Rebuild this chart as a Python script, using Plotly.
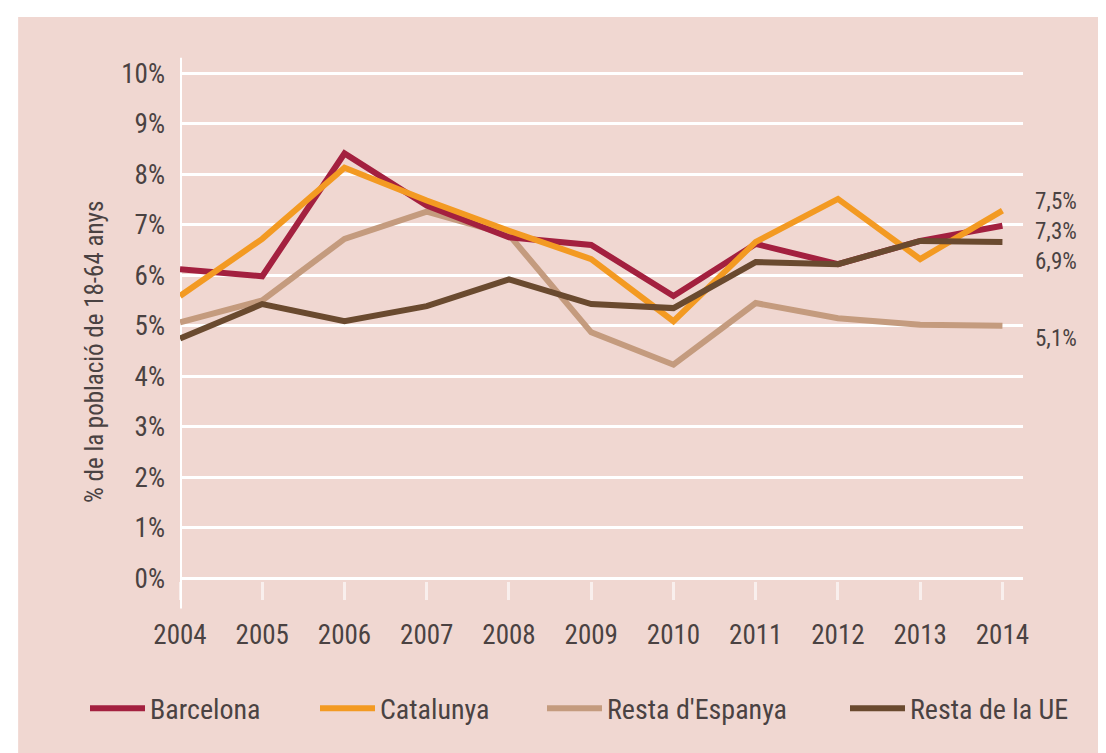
import plotly.graph_objects as go

anys = [2004, 2005, 2006, 2007, 2008, 2009, 2010, 2011, 2012, 2013, 2014]

barcelona = [6.12, 5.98, 8.41, 7.38, 6.75, 6.60, 5.59, 6.62, 6.22, 6.68, 6.98]
catalunya = [5.59, 6.72, 8.13, 7.48, 6.88, 6.32, 5.09, 6.66, 7.51, 6.32, 7.28]
resta_espanya = [5.07, 5.50, 6.72, 7.26, 6.80, 4.87, 4.23, 5.45, 5.15, 5.02, 5.00]
resta_ue = [4.75, 5.43, 5.09, 5.39, 5.92, 5.43, 5.35, 6.26, 6.22, 6.68, 6.66]

percentatges = list(range(0, 11))
etiquetes_pct = [f"{p}%" for p in percentatges]

etiquetes_finals = ["7,5%", "7,3%", "6,9%", "5,1%"]
etiquetes_y = [7.45, 6.86, 6.27, 4.75]

font_txt = "Liberation Sans Narrow, Arial Narrow, Roboto Condensed, DejaVu Sans Condensed, Roboto, sans-serif"
gris = "#4a4242"
fons = "#f0d7d1"

# ordre de dibuix: tan a sota, marró a sobre; cada sèrie amb la seva llegenda
series = [
    ("Resta d'Espanya", resta_espanya, "#c49b7e", "legend3"),
    ("Barcelona", barcelona, "#a3203f", "legend"),
    ("Catalunya", catalunya, "#f39a22", "legend2"),
    ("Resta de la UE", resta_ue, "#6a4a2f", "legend4"),
]

fig = go.Figure()
for nom, vals, color, lg in series:
    fig.add_trace(go.Scatter(
        x=anys, y=vals, mode="lines", name=nom,
        line=dict(color=color, width=6),
        legend=lg,
    ))

# fons rosa amb marge blanc a dalt i a l'esquerra
fig.add_shape(type="rect", xref="paper", yref="paper",
              x0=-0.192, x1=1.12, y0=-0.36, y1=1.089,
              fillcolor=fons, line=dict(width=0), layer="below")
# eix vertical blanc
fig.add_shape(type="line", xref="x", yref="paper",
              x0=2004, x1=2004, y0=-0.053, y1=1.01,
              line=dict(color="white", width=4), layer="below")

for txt, yv in zip(etiquetes_finals, etiquetes_y):
    fig.add_annotation(x=(1025 - 172) / 843, xref="paper", y=yv, yref="y", text=txt,
                       showarrow=False, xanchor="left",
                       font=dict(family=font_txt, size=23, color=gris))

fig.add_annotation(x=-0.121, xref="paper", y=0.443, yref="paper",
                   text="% de la població de 18-64 anys", showarrow=False,
                   textangle=-90, font=dict(family=font_txt, size=25, color=gris))

llegenda = dict(orientation="h", y=-0.246, yanchor="middle", xanchor="left",
                font=dict(family=font_txt, size=28, color=gris),
                bgcolor="rgba(0,0,0,0)", itemwidth=55)

fig.update_layout(
    width=1106, height=753,
    margin=dict(l=172, r=91, t=55, b=180),
    paper_bgcolor="white",
    plot_bgcolor="rgba(0,0,0,0)",
    font=dict(family=font_txt, size=27, color=gris),
    showlegend=True,
    legend=dict(llegenda, x=(77 - 172) / 843),
    legend2=dict(llegenda, x=(307 - 172) / 843),
    legend3=dict(llegenda, x=(534 - 172) / 843),
    legend4=dict(llegenda, x=(837 - 172) / 843),
    xaxis=dict(
        range=[2004, 2014.25], tickvals=anys, showgrid=False, zeroline=False,
        showline=False, ticks="outside", ticklen=18, tickwidth=3,
        tickcolor="rgba(255,255,255,0.6)", ticklabelstandoff=12,
        tickfont=dict(family=font_txt, size=27, color=gris),
    ),
    yaxis=dict(
        range=[-0.05, 10.2], tickvals=percentatges, ticktext=etiquetes_pct,
        showgrid=True, gridcolor="white", gridwidth=3, zeroline=False,
        showline=False, ticks="", ticklabelstandoff=14,
        tickfont=dict(family=font_txt, size=27, color=gris),
    ),
)

fig.write_html("out.html")
